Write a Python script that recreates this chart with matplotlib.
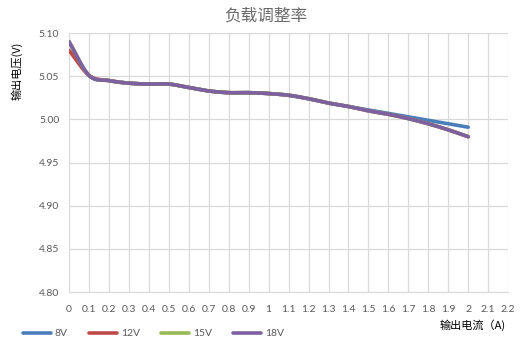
import numpy as np
import matplotlib
matplotlib.use('Agg')
import matplotlib.pyplot as plt

plt.rcParams['font.family'] = ['Lato', 'Noto Sans CJK SC', 'DejaVu Sans']

current = [0.0, 0.1, 0.2, 0.3, 0.4, 0.5, 0.6, 0.7, 0.8, 0.9, 1.0,
           1.1, 1.2, 1.3, 1.4, 1.5, 1.6, 1.7, 1.8, 1.9, 2.0]
v8 = [5.090, 5.051, 5.045, 5.042, 5.041, 5.041, 5.037, 5.033, 5.031, 5.031, 5.030,
      5.028, 5.024, 5.019, 5.015, 5.011, 5.007, 5.003, 4.999, 4.995, 4.991]
v12 = [5.080, 5.051, 5.045, 5.042, 5.041, 5.041, 5.037, 5.033, 5.031, 5.031, 5.030,
       5.028, 5.024, 5.019, 5.015, 5.010, 5.006, 5.001, 4.995, 4.988, 4.980]
v15 = [5.090, 5.051, 5.045, 5.042, 5.041, 5.041, 5.037, 5.033, 5.031, 5.031, 5.030,
       5.028, 5.024, 5.019, 5.015, 5.010, 5.006, 5.001, 4.995, 4.988, 4.980]
v18 = [5.090, 5.051, 5.045, 5.042, 5.041, 5.041, 5.037, 5.033, 5.031, 5.031, 5.030,
       5.028, 5.024, 5.019, 5.015, 5.010, 5.006, 5.001, 4.995, 4.988, 4.980]
names = ['8V', '12V', '15V', '18V']
colors = ['#4a7ebb', '#be4b48', '#98b954', '#7d60a0']
xticks = [0, 0.1, 0.2, 0.3, 0.4, 0.5, 0.6, 0.7, 0.8, 0.9, 1, 1.1, 1.2, 1.3,
          1.4, 1.5, 1.6, 1.7, 1.8, 1.9, 2, 2.1, 2.2]
yticks = [4.80, 4.85, 4.90, 4.95, 5.00, 5.05, 5.10]


def smooth(x, y, n=12):
	# catmull-rom style smoothing like excel's smoothed line
	x = np.asarray(x, float)
	y = np.asarray(y, float)
	px = np.concatenate([[2*x[0]-x[1]], x, [2*x[-1]-x[-2]]])
	py = np.concatenate([[2*y[0]-y[1]], y, [2*y[-1]-y[-2]]])
	xs, ys = [], []
	t = np.linspace(0, 1, n, endpoint=False)
	for i in range(1, len(px)-2):
		for arr, out in ((px, xs), (py, ys)):
			p0, p1, p2, p3 = arr[i-1], arr[i], arr[i+1], arr[i+2]
			out.extend(0.5*((2*p1) + (-p0+p2)*t + (2*p0-5*p1+4*p2-p3)*t**2
				+ (-p0+3*p1-3*p2+p3)*t**3))
	xs.append(x[-1])
	ys.append(y[-1])
	return np.array(xs), np.array(ys)


fig = plt.figure(figsize=(5.31, 3.52), dpi=100)
ax = fig.add_axes([0.130, 0.170, 0.827, 0.736])

for vals, name, c in zip([v8, v12, v15, v18], names, colors):
	sx, sy = smooth(current, vals)
	ax.plot(sx, sy, color=c, lw=2.6, label=name, solid_capstyle='round')

ax.set_xlim(0, 2.2)
ax.set_ylim(4.80, 5.10)
ax.set_xticks(xticks)
ax.set_xticklabels([('%g' % v) for v in xticks])
ax.set_yticks(yticks)
ax.set_yticklabels(['%.2f' % v for v in yticks])
ax.grid(True, color='#d9d9d9', lw=0.9)
ax.set_axisbelow(True)
for s in ['top', 'right', 'left']:
	ax.spines[s].set_visible(False)
ax.spines['bottom'].set_color('#d9d9d9')
ax.tick_params(length=0, labelsize=7.5, colors='#595959')
ax.tick_params(axis='x', pad=9)
ax.tick_params(axis='y', pad=7)

fig.text(0.5, 0.955, '负载调整率', ha='center', va='center', fontsize=12,
	color='#6b6b6b', family=['Noto Sans CJK SC'])
fig.text(0.032, 0.80, '输出电压(V)', ha='center', va='center', rotation=90,
	fontsize=8, color='#000000', family=['Noto Sans CJK SC'])
fig.text(0.952, 0.076, '输出电流（A)', ha='right', va='center', fontsize=8,
	color='#000000', family=['Noto Sans CJK SC'])

fig.legend(loc='center left', bbox_to_anchor=(0.025, 0.052), ncol=4, frameon=False,
	fontsize=7.5, handlelength=2.7, handletextpad=0.4, columnspacing=2.0,
	labelcolor='#595959')

fig.savefig('out.png', dpi=100)
